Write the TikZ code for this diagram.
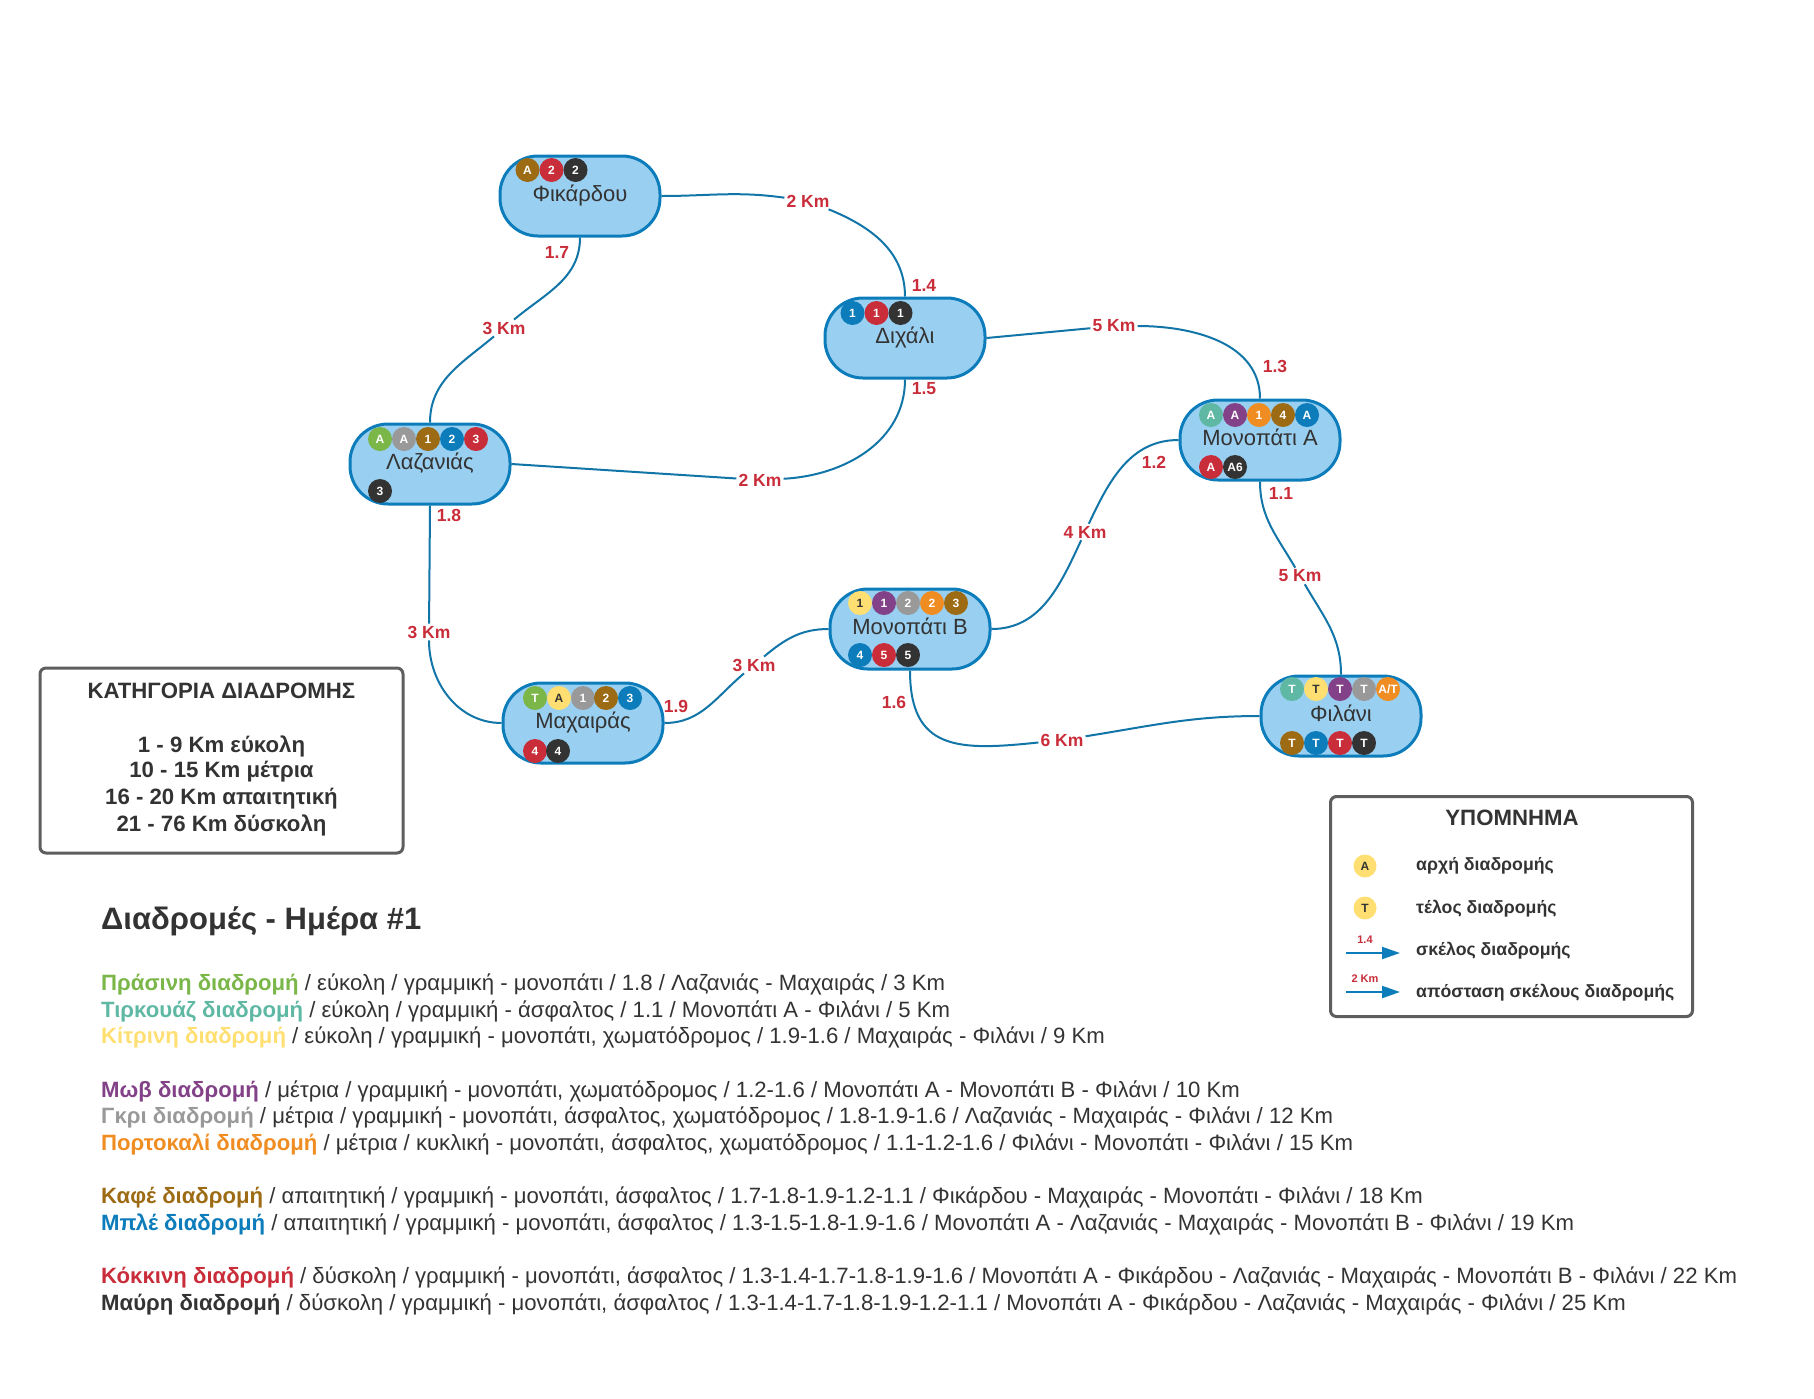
\documentclass[tikz,border=0pt]{standalone}
\usepackage{fontspec}
\setmainfont{Liberation Sans}
\usetikzlibrary{calc,arrows.meta}
\definecolor{PlaceFill}{HTML}{99CFF0}
\definecolor{RouteBlue}{HTML}{0C7CBA}
\definecolor{LineBlue}{HTML}{1275A8}
\definecolor{RouteGreen}{HTML}{7AB648}
\definecolor{RouteTeal}{HTML}{5FB8A4}
\definecolor{RouteYellow}{HTML}{FFDF71}
\definecolor{RoutePurple}{HTML}{834187}
\definecolor{RouteGrey}{HTML}{999999}
\definecolor{RouteOrange}{HTML}{EF8D22}
\definecolor{RouteBrown}{HTML}{9D6B14}
\definecolor{RouteRed}{HTML}{C92D39}
\definecolor{RouteBlack}{HTML}{333333}
\definecolor{BoxGrey}{HTML}{5E5E5E}

\begin{document}
\begin{tikzpicture}[x=1pt,y=-1pt]
				\tikzstyle{place}=[draw=RouteBlue, fill=PlaceFill, line width=3pt, rounded corners=38pt, minimum width=160pt, minimum height=80pt, inner sep=0pt, text=RouteBlack, text height=16pt, text depth=5pt, font=\fontsize{22}{24}\selectfont];
				\tikzstyle{badge}=[shape=circle, minimum size=24pt, inner sep=0pt, text=white, font=\bfseries\fontsize{12}{14}\selectfont];
				\tikzstyle{km}=[text=RouteRed, inner sep=2pt, font=\bfseries\fontsize{17.5}{19}\selectfont];
				\tikzstyle{leg}=[km, inner sep=0pt];
				\tikzstyle{road}=[draw=LineBlue, line width=2pt];
				\tikzstyle{infobox}=[draw=BoxGrey, line width=3pt, rounded corners=6pt, fill=white];
				\tikzstyle{boxtext}=[text=RouteBlack, inner sep=0pt, font=\bfseries\fontsize{22.2}{24}\selectfont];
				\tikzstyle{legtext}=[text=RouteBlack, inner sep=0pt, anchor=base west, font=\bfseries\fontsize{17.7}{20}\selectfont];
				\tikzstyle{routeline}=[text=RouteBlack, inner sep=0pt, anchor=base west, font=\fontsize{22.15}{24}\selectfont];
				\useasboundingbox (0,0) rectangle (1814,1398);

				\node [place] (fik) at (580,196) {Φικάρδου};
				\node [place] (dix) at (905,338) {Διχάλι};
				\node [place] (laz) at (430,464) {Λαζανιάς};
				\node [place] (mona) at (1260,440) {Μονοπάτι Α};
				\node [place] (monb) at (910,629) {Μονοπάτι Β};
				\node [place] (fil) at (1341,716) {Φιλάνι};
				\node [place] (mach) at (583,723) {Μαχαιράς};

				\node [badge, fill=RouteBrown] (f1) at (527.5,170) {Α};
				\node [badge, fill=RouteRed] (f2) at (551.5,170) {2};
				\node [badge, fill=RouteBlack] (f3) at (575.5,170) {2};

				\node [badge, fill=RouteBlue] (d1) at (852.5,313) {1};
				\node [badge, fill=RouteRed] (d2) at (876.5,313) {1};
				\node [badge, fill=RouteBlack] (d3) at (900.5,313) {1};

				\node [badge, fill=RouteGreen] (l1) at (380,439) {Α};
				\node [badge, fill=RouteGrey] (l2) at (404,439) {Α};
				\node [badge, fill=RouteBrown] (l3) at (428,439) {1};
				\node [badge, fill=RouteBlue] (l4) at (452,439) {2};
				\node [badge, fill=RouteRed] (l5) at (476,439) {3};
				\node [badge, fill=RouteBlack] (l6) at (380,491) {3};

				\node [badge, fill=RouteTeal] (a1) at (1211,415) {Α};
				\node [badge, fill=RoutePurple] (a2) at (1235,415) {Α};
				\node [badge, fill=RouteOrange] (a3) at (1259,415) {1};
				\node [badge, fill=RouteBrown] (a4) at (1283,415) {4};
				\node [badge, fill=RouteBlue] (a5) at (1307,415) {Α};
				\node [badge, fill=RouteRed] (a6) at (1211,467) {Α};
				\node [badge, fill=RouteBlack] (a7) at (1235,467) {Α6};

				\node [badge, fill=RouteYellow, text=RouteBlack] (b1) at (860,603) {1};
				\node [badge, fill=RoutePurple] (b2) at (884,603) {1};
				\node [badge, fill=RouteGrey] (b3) at (908,603) {2};
				\node [badge, fill=RouteOrange] (b4) at (932,603) {2};
				\node [badge, fill=RouteBrown] (b5) at (956,603) {3};
				\node [badge, fill=RouteBlue] (b6) at (860,655) {4};
				\node [badge, fill=RouteRed] (b7) at (884,655) {5};
				\node [badge, fill=RouteBlack] (b8) at (908,655) {5};

				\node [badge, fill=RouteTeal] (t1) at (1292,689) {Τ};
				\node [badge, fill=RouteYellow, text=RouteBlack] (t2) at (1316,689) {Τ};
				\node [badge, fill=RoutePurple] (t3) at (1340,689) {Τ};
				\node [badge, fill=RouteGrey] (t4) at (1364,689) {Τ};
				\node [badge, fill=RouteOrange] (t5) at (1388,689) {Α/Τ};
				\node [badge, fill=RouteBrown] (t6) at (1292,743) {Τ};
				\node [badge, fill=RouteBlue] (t7) at (1316,743) {Τ};
				\node [badge, fill=RouteRed] (t8) at (1340,743) {Τ};
				\node [badge, fill=RouteBlack] (t9) at (1364,743) {Τ};

				\node [badge, fill=RouteGreen] (m1) at (535,698) {Τ};
				\node [badge, fill=RouteYellow, text=RouteBlack] (m2) at (559,698) {Α};
				\node [badge, fill=RouteGrey] (m3) at (583,698) {1};
				\node [badge, fill=RouteBrown] (m4) at (606,698) {2};
				\node [badge, fill=RouteBlue] (m5) at (630,698) {3};
				\node [badge, fill=RouteRed] (m6) at (535,751) {4};
				\node [badge, fill=RouteBlack] (m7) at (558,751) {4};

				\node [km] (k1) at (808,201) {2 Km};
				\node [km] (k2) at (504,328) {3 Km};
				\node [km] (k3) at (760,480) {2 Km};
				\node [km] (k4) at (1114,326) {5 Km};
				\node [km] (k5) at (1085,532) {4 Km};
				\node [km] (k6) at (1300,576) {5 Km};
				\node [km] (k7) at (1062,740) {6 Km};
				\node [km] (k8) at (754,665) {3 Km};
				\node [km] (k9) at (429,632) {3 Km};

				\node [km] (s1) at (1281,493) {1.1};
				\node [km] (s2) at (1154,462) {1.2};
				\node [km] (s3) at (1275,366) {1.3};
				\node [km] (s4) at (924,285) {1.4};
				\node [km] (s5) at (924,389) {1.5};
				\node [km] (s6) at (894,702) {1.6};
				\node [km] (s7) at (557,252) {1.7};
				\node [km] (s8) at (449,515) {1.8};
				\node [km] (s9) at (676,706) {1.9};

				\draw[road] (fik.east) to[out=0,in=172] (k1);
				\draw[road] (k1) to[out=-22,in=90] (dix.north);
				\draw[road] (fik.south) to[out=-90,in=40] (k2);
				\draw[road] (k2) to[out=-140,in=90] (laz.north);
				\draw[road] (dix.south) to[out=-90,in=3] (k3);
				\draw[road] (k3) -- (laz.east);
				\draw[road] (dix.east) -- (k4);
				\draw[road] (k4) to[out=0,in=90] (mona.north);
				\draw[road] (mona.west) to[out=180,in=65] (k5);
				\draw[road] (k5) to[out=-115,in=0] (monb.east);
				\draw[road] (mona.south) to[out=-90,in=120] (k6);
				\draw[road] (k6) to[out=-60,in=90] (fil.north);
				\draw[road] (monb.south) to[out=-90,in=186,looseness=1.4] (k7);
				\draw[road] (k7) to[out=9,in=180] (fil.west);
				\draw[road] (monb.west) to[out=180,in=40] (k8);
				\draw[road] (k8) to[out=-140,in=0] (mach.east);
				\draw[road] (laz.south) -- (k9);
				\draw[road] (k9) to[out=-90,in=180] (mach.west);

				\node [infobox, minimum width=363pt, minimum height=185pt] (cat) at (221.5,760.5) {};
				\node [boxtext] (c0) at (221.5,691) {ΚΑΤΗΓΟΡΙΑ ΔΙΑΔΡΟΜΗΣ};
				\node [boxtext] (c1) at (221.5,746) {1 - 9 Km εύκολη};
				\node [boxtext] (c2) at (221.5,772) {10 - 15 Km μέτρια};
				\node [boxtext] (c3) at (221.5,799) {16 - 20 Km απαιτητική};
				\node [boxtext] (c4) at (221.5,825) {21 - 76 Km δύσκολη};

				\node [infobox, minimum width=362pt, minimum height=220pt] (leg) at (1511.5,906.5) {};
				\node [boxtext] (g0) at (1512,818) {ΥΠΟΜΝΗΜΑ};
				\node [badge, fill=RouteYellow, text=RouteBlack, minimum size=23pt] (g1) at (1365,866) {Α};
				\node [badge, fill=RouteYellow, text=RouteBlack, minimum size=23pt] (g2) at (1365,908) {Τ};
				\node [legtext] (g3) at (1416,870) {αρχή διαδρομής};
				\node [legtext] (g4) at (1416,913) {τέλος διαδρομής};
				\node [legtext] (g5) at (1416,955) {σκέλος διαδρομής};
				\node [legtext] (g6) at (1416,997) {απόσταση σκέλους διαδρομής};
				\node [leg, font=\bfseries\fontsize{11}{13}\selectfont] (g7) at (1365,940) {1.4};
				\node [leg, font=\bfseries\fontsize{11}{13}\selectfont] (g8) at (1365,979) {2 Km};
				\coordinate (p1) at (1346,953);
				\coordinate (p2) at (1400,953);
				\coordinate (p3) at (1346,992);
				\coordinate (p4) at (1400,992);
				\draw[road, draw=RouteBlue, -{Triangle[length=18pt,width=12pt]}] (p1) -- (p2);
				\draw[road, draw=RouteBlue, -{Triangle[length=18pt,width=12pt]}] (p3) -- (p4);

				\node [anchor=base west, inner sep=0pt, text=RouteBlack, font=\bfseries\fontsize{31}{34}\selectfont] (head) at (101,929) {Διαδρομές - Ημέρα \#1};

				\node [routeline] (r1) at (101,990) {\textcolor{RouteGreen}{\textbf{Πράσινη διαδρομή}} / εύκολη / γραμμική - μονοπάτι / 1.8 / Λαζανιάς - Μαχαιράς / 3 Km};
				\node [routeline] (r2) at (101,1017) {\textcolor{RouteTeal}{\textbf{Τιρκουάζ διαδρομή}} / εύκολη / γραμμική - άσφαλτος / 1.1 / Μονοπάτι Α - Φιλάνι / 5 Km};
				\node [routeline] (r3) at (101,1043) {\textcolor{RouteYellow}{\textbf{Κίτρινη διαδρομή}} / εύκολη / γραμμική - μονοπάτι, χωματόδρομος / 1.9-1.6 / Μαχαιράς - Φιλάνι / 9 Km};
				\node [routeline] (r4) at (101,1097) {\textcolor{RoutePurple}{\textbf{Μωβ διαδρομή}} / μέτρια / γραμμική - μονοπάτι, χωματόδρομος / 1.2-1.6 / Μονοπάτι Α - Μονοπάτι Β - Φιλάνι / 10 Km};
				\node [routeline] (r5) at (101,1123) {\textcolor{RouteGrey}{\textbf{Γκρι διαδρομή}} / μέτρια / γραμμική - μονοπάτι, άσφαλτος, χωματόδρομος / 1.8-1.9-1.6 / Λαζανιάς - Μαχαιράς - Φιλάνι / 12 Km};
				\node [routeline] (r6) at (101,1150) {\textcolor{RouteOrange}{\textbf{Πορτοκαλί διαδρομή}} / μέτρια / κυκλική - μονοπάτι, άσφαλτος, χωματόδρομος / 1.1-1.2-1.6 / Φιλάνι - Μονοπάτι - Φιλάνι / 15 Km};
				\node [routeline] (r7) at (101,1203) {\textcolor{RouteBrown}{\textbf{Καφέ διαδρομή}} / απαιτητική / γραμμική - μονοπάτι, άσφαλτος / 1.7-1.8-1.9-1.2-1.1 / Φικάρδου - Μαχαιράς - Μονοπάτι - Φιλάνι / 18 Km};
				\node [routeline] (r8) at (101,1230) {\textcolor{RouteBlue}{\textbf{Μπλέ διαδρομή}} / απαιτητική / γραμμική - μονοπάτι, άσφαλτος / 1.3-1.5-1.8-1.9-1.6 / Μονοπάτι Α - Λαζανιάς - Μαχαιράς - Μονοπάτι Β - Φιλάνι / 19 Km};
				\node [routeline] (r9) at (101,1283) {\textcolor{RouteRed}{\textbf{Κόκκινη διαδρομή}} / δύσκολη / γραμμική - μονοπάτι, άσφαλτος / 1.3-1.4-1.7-1.8-1.9-1.6 / Μονοπάτι Α - Φικάρδου - Λαζανιάς - Μαχαιράς - Μονοπάτι Β - Φιλάνι / 22 Km};
				\node [routeline] (r10) at (101,1310) {\textcolor{RouteBlack}{\textbf{Μαύρη διαδρομή}} / δύσκολη / γραμμική - μονοπάτι, άσφαλτος / 1.3-1.4-1.7-1.8-1.9-1.2-1.1 / Μονοπάτι Α - Φικάρδου - Λαζανιάς - Μαχαιράς - Φιλάνι / 25 Km};
			\end{tikzpicture}
\end{document}
